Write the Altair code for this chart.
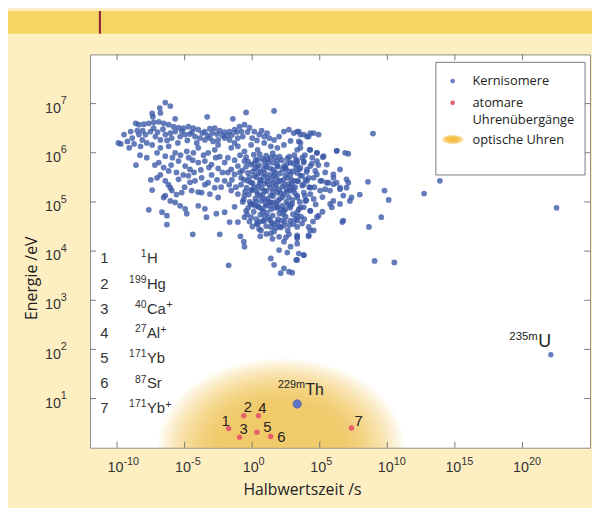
import numpy as np
import pandas as pd
import altair as alt

# ---------------- data (log10 values) ----------------
# nuclear isomers: (log10 half-life / s, log10 energy / eV)
ISO_POINTS = [
    (-6.43,7.02),(-6.06,6.95),(-6.84,6.91),(-7.40,6.80),(-6.79,6.81),(-7.35,6.73),(-5.70,6.69),(-3.33,6.73),(-1.43,6.69),(-0.45,6.82),(1.62,6.85),
    (-8.62,6.60),(-8.38,6.57),(-8.01,6.58),(-7.65,6.60),(-7.28,6.62),(-6.91,6.63),(-6.55,6.60),(-6.18,6.57),(-5.82,6.53),(-5.45,6.51),(-5.09,6.50),
    (-4.72,6.53),(-4.35,6.50),(-3.99,6.47),(-3.50,6.43),(-3.13,6.49),(-2.77,6.50),(-2.40,6.45),(-2.04,6.42),(-1.67,6.43),(-1.30,6.47),(-0.94,6.53),
    (-0.57,6.57),(-0.20,6.51),(0.16,6.43),(0.52,6.37),(0.89,6.33),(1.26,6.30),(1.62,6.26),(1.99,6.33),(2.35,6.43),(2.72,6.47),(3.08,6.40),(3.45,6.43),
    (3.82,6.37),(4.18,6.33),(4.55,6.40),(4.92,6.37),
    (-9.48,6.37),(-9.72,6.18),(-9.23,6.23),(-8.87,6.30),(-8.74,6.18),(-8.99,6.43),(-8.38,6.37),(-8.13,6.26),(-7.89,6.37),(-7.52,6.43),(-7.16,6.33),
    (-6.79,6.26),(-6.43,6.37),(-6.06,6.40),(-5.70,6.43),(-5.33,6.33),(-4.96,6.37),(-4.60,6.38),(-4.23,6.33),(-3.87,6.30),(-3.50,6.26),(-3.13,6.30),
    (-2.89,6.23),(-2.52,6.26),(-2.04,6.30),(-1.67,6.26),(-1.30,6.20),(-1.06,6.30),(-0.70,6.33),
    (-8.26,6.13),(-7.40,6.16),(-6.79,6.10),(-6.18,6.13),(-5.70,6.00),(-7.04,6.00),(-6.43,5.93),(-4.84,6.03),(-4.35,6.00),(-3.99,6.10),(-3.26,6.00),
    (-2.77,6.06),(-2.52,6.16),(-1.55,6.10),(-1.06,6.13),(-0.57,6.03),(-0.08,6.16),(0.40,6.06),(0.89,6.20),(1.38,6.13),(1.87,6.10),(2.35,6.16),
    (2.84,6.24),(3.33,6.06),(3.57,6.20),(4.30,6.06),(4.79,6.00),(5.28,5.93),(6.26,6.04),(6.87,6.00),
    (-6.91,5.80),(-6.55,5.70),(-6.18,5.63),(-5.45,5.83),(-4.96,5.73),(-4.60,5.66),(-3.99,5.80),(-3.50,5.83),(-3.01,5.76),(-2.52,5.68),(-2.04,5.80),
    (-1.55,5.66),(-1.06,5.73),(-0.57,5.83),(-0.08,5.76),(0.40,5.86),(0.89,5.83),(1.38,5.90),(1.87,5.83),(2.35,5.73),(2.84,5.80),(3.33,5.76),
    (3.82,5.83),(4.30,5.73),(4.79,5.83),(5.52,5.76),(6.01,5.56),(6.50,5.66),
    (-7.04,5.49),(-6.43,5.43),(-6.06,5.29),(-5.45,5.46),(-4.72,5.53),(-4.23,5.43),(-3.74,5.49),(-3.26,5.39),(-2.77,5.29),(-2.04,5.43),(-1.30,5.56),
    (-0.82,5.49),(-0.33,5.43),(0.16,5.53),(0.65,5.43),(1.13,5.49),(1.62,5.53),(2.11,5.43),(2.60,5.49),(3.08,5.43),(3.57,5.53),(4.06,5.43),
    (4.55,5.49),(5.04,5.43),(5.52,5.39),(6.01,5.36),(6.50,5.29),
    (-7.40,5.24),(-6.43,5.13),(-5.94,5.23),(-5.21,5.19),(-4.48,5.23),(-3.74,5.19),(-3.13,5.16),(-2.52,5.09),(-1.55,5.23),(-1.06,5.16),(-0.57,5.13),
    (-0.08,5.23),(0.40,5.16),(0.89,5.23),(1.38,5.13),(1.87,5.19),(2.35,5.16),(2.84,5.23),(3.33,5.13),(3.82,5.19),(4.30,5.16),
    (-7.65,4.84),(-6.55,5.09),(-6.06,5.02),(-5.70,4.99),(-5.33,4.92),(-4.96,4.86),(-4.84,4.76),(-6.67,4.79),(-6.31,4.72),(-6.31,4.54),(-3.99,4.92),
    (-3.50,4.86),(-3.38,4.69),(-2.65,4.76),(-2.04,4.79),(-1.67,4.59),(-1.06,4.59),(-0.57,4.69),(-0.45,4.82),(0.04,4.96),(0.52,4.89),(1.01,4.92),
    (1.38,4.99),(1.87,4.89),(2.35,4.82),(2.84,4.92),(3.33,4.79),(3.82,4.89),(4.30,4.82),(4.79,4.69),(5.77,4.96),(6.74,4.62),
    (-0.08,4.69),(0.40,4.56),(0.89,4.62),(1.38,4.49),(1.87,4.59),(2.35,4.52),(2.84,4.62),(3.33,4.49),(4.18,4.32),(3.33,4.32),(4.30,4.42),
    (-4.40,4.34),(-2.40,4.34),(-0.87,4.30),(-0.62,4.19),(-0.57,4.09),(1.38,4.36),(1.99,4.29),(2.35,4.19),(2.72,4.34),(2.84,4.09),(3.33,4.26),
    (3.82,3.92),(1.99,4.02),(2.60,3.97),(1.38,3.85),(1.62,3.72),(2.11,3.55),(2.35,3.65),(2.72,3.58),(2.96,3.56),(3.26,3.82),(-1.74,3.71),(0.65,4.42),
    (-0.90,5.95),(-0.45,5.91),(0.12,5.96),(0.55,5.97),(1.04,5.94),(1.52,5.99),(2.03,5.92),(2.61,5.89),(3.12,5.95),(3.71,5.90),
    (-0.72,5.64),(-0.31,5.59),(0.22,5.68),(0.63,5.61),(1.08,5.71),(1.57,5.65),(2.04,5.58),(2.49,5.67),(3.02,5.62),(3.48,5.66),(4.03,5.61),
    (-0.83,5.35),(-0.41,5.29),(0.03,5.38),(0.44,5.31),(0.91,5.37),(1.33,5.29),(1.79,5.35),(2.24,5.31),(2.69,5.36),(3.18,5.30),(3.71,5.33),(4.22,5.30),
    (-0.63,5.05),(-0.18,5.00),(0.24,5.07),(0.68,5.02),(1.12,5.06),(1.61,4.99),(2.04,5.06),(2.53,5.00),(2.97,5.04),(3.52,5.00),(4.01,5.03),
    (-0.38,4.75),(0.12,4.80),(0.61,4.74),(1.09,4.78),(1.52,4.72),(2.01,4.77),(2.48,4.70),(3.02,4.75),(3.61,4.70),
    (0.02,4.50),(0.51,4.45),(1.03,4.51),(1.62,4.40),(2.12,4.48),(2.63,4.42),(3.04,4.55),
    (0.31,5.50),(0.82,5.51),(1.33,5.55),(1.81,5.49),(2.32,5.45),(2.83,5.55),(0.33,5.21),(0.78,5.15),(1.52,5.21),(2.12,5.18),(2.61,5.21),
    (0.42,4.91),(1.01,4.95),(1.72,4.88),(2.22,4.92),(2.81,4.88),(0.81,4.61),(1.31,4.63),(1.92,4.65),(2.41,4.60),(-0.21,5.50),(-0.52,5.21),(-0.11,4.95),
    (0.50,5.75),(1.20,5.80),(1.90,5.72),(2.60,5.78),(0.70,5.28),(1.10,5.42),(1.60,5.38),(2.00,5.25),(2.40,5.35),(0.90,5.05),(1.40,4.85),
    (1.90,5.02),(2.30,4.75),(0.30,4.65),(2.70,5.10),(1.20,4.68),(0.60,5.45),(2.90,5.45),(1.70,5.60),(0.00,5.25),
    (-7.80,5.90),(-7.20,5.75),(-6.80,5.55),(-5.90,5.90),(-5.10,5.55),(-4.40,5.85),(-3.80,5.65),(-3.00,5.55),(-2.40,5.92),(-1.80,5.60),
    (-7.50,5.45),(-6.20,5.35),(-5.00,5.30),(-4.00,5.20),(-2.30,5.30),(-1.50,5.45),(-8.30,5.95),(-8.60,5.75),(-9.90,6.20),
    (3.33,6.43),(3.57,6.37),(4.06,6.33),(4.30,6.40),(3.45,6.23),(3.57,6.10),(4.25,6.06),(4.79,6.00),(5.23,5.91),(6.25,6.04),(7.11,5.98),
    (3.33,5.83),(3.81,5.80),(4.42,5.78),(3.57,5.69),(4.06,5.66),(4.67,5.63),(3.33,5.59),(3.69,5.53),(4.18,5.49),(4.79,5.56),(5.16,5.43),
    (5.64,5.39),(6.01,5.49),(6.25,5.39),(6.98,5.46),(7.11,5.39),(5.40,5.26),(5.76,5.23),(5.03,5.23),(6.50,5.26),(6.98,5.29),(6.74,5.13),
    (7.23,5.02),(6.50,4.96),(6.01,5.02),(7.35,5.09),(7.96,5.15),(8.57,5.41),(9.79,5.23),(10.10,5.04),(9.55,4.69),(8.64,4.49),(9.06,3.80),
    (10.52,3.77),(12.72,5.17),(13.89,5.43),(22.52,4.88),(8.94,6.39),(3.33,5.43),(3.81,5.36),(4.30,5.29),(3.33,5.09),(3.94,5.02),(4.55,5.06),
    (3.57,4.89),(4.30,4.82),(4.91,4.72),(3.33,4.62),(3.69,4.56),(4.18,4.49),(4.55,4.42),(3.33,4.29),(4.18,4.30),(3.33,4.15),(3.45,3.95),
    (3.81,3.92),(3.33,3.82),(6.67,4.59),(5.89,4.89),
    (-0.30,5.82),(0.25,5.85),(0.75,5.88),(1.15,5.86),(1.70,5.91),(2.20,5.85),(2.75,5.92),(3.25,5.86),
    (-0.45,5.72),(0.05,5.62),(0.40,5.70),(0.85,5.66),(1.35,5.68),(1.85,5.74),(2.25,5.66),(2.75,5.62),(3.25,5.70),
    (-0.60,5.45),(-0.10,5.40),(0.45,5.58),(0.95,5.58),(1.45,5.45),(1.95,5.42),(2.45,5.55),(2.95,5.36),(3.40,5.42),
    (-0.25,5.15),(0.15,5.30),(0.60,5.12),(1.05,5.22),(1.55,5.12),(2.25,5.10),(2.80,5.30),(3.15,5.18),
    (-0.30,4.88),(0.20,4.92),(0.72,4.86),(1.25,5.00),(1.80,4.95),(2.45,4.85),(2.95,4.96),(3.45,4.85),
    (0.35,4.55),(0.90,4.72),(1.45,4.58),(1.75,4.47),(2.20,4.62),(2.75,4.53),(3.20,4.65),(1.05,4.35),(1.50,4.25),(2.50,4.28),(0.60,4.30),
    (-9.10,6.10),(-8.50,6.45),(-8.10,6.45),(-7.80,6.20),(-7.30,6.50),(-7.00,6.42),(-6.60,6.48),(-6.30,6.25),(-5.95,6.30),(-5.50,6.20),
    (-5.20,6.44),(-4.80,6.25),(-4.45,6.42),(-4.10,6.20),(-3.70,6.40),(-3.30,6.35),(-2.95,6.40),(-2.60,6.38),(-2.20,6.35),(-1.85,6.35),
    (-1.50,6.36),(-1.15,6.42),(-0.80,6.43),(-0.35,6.42),(0.00,6.30),(0.35,6.25),(0.70,6.45),(1.10,6.40),
    (-6.00,5.75),(-5.60,5.60),(-5.30,5.95),(-4.70,5.90),(-4.30,5.60),(-3.60,5.95),(-3.20,5.70),(-2.70,5.90),(-2.20,5.60),(-1.80,5.90),
    (-1.30,5.85),(-0.90,5.60),(-1.70,5.35),(-1.20,5.30),(-0.70,5.00),(-1.30,4.90),(-2.60,5.45),(-3.50,5.35),(-4.60,5.40),(-5.60,5.15),
    (3.90,5.95),(4.45,5.90),(4.90,5.75),(5.40,5.60),(3.95,5.45),(4.60,5.30),(5.20,5.10),(3.90,5.12),(4.70,4.95),(3.85,4.65),(4.50,4.60),(5.20,4.80),
    (0.15,5.78),(0.95,5.74),(1.55,5.80),(2.45,5.70),(3.05,5.78),(0.55,5.38),(1.25,5.35),(1.70,5.28),(2.55,5.25),(3.05,5.25),
    (0.30,5.00),(0.80,4.82),(1.35,4.92),(2.10,4.85),(2.65,4.95),(0.55,4.60),(1.60,4.55),(2.00,4.50),(3.35,4.70),(-0.20,4.60),
]
ISO_LOG_T = [p[0] for p in ISO_POINTS]
ISO_LOG_E = [p[1] for p in ISO_POINTS]

# atomic clock transitions 1..7
CLOCK_IDS = ["1", "2", "3", "4", "5", "6", "7"]
CLOCK_LOG_T = [-1.74, -0.62, -0.94, 0.47, 0.35, 1.37, 7.35]
CLOCK_LOG_E = [0.39, 0.65, 0.215, 0.65, 0.315, 0.227, 0.40]

# special isomers
TH_LOG_T, TH_LOG_E = 3.33, 0.89
U_LOG_T, U_LOG_E = 22.1, 1.89

# optical clock region (centre of glow)
GLOW_LOG_T, GLOW_LOG_E = 2.12, 0.0

# list on the left
LIST_NUM = ["1", "2", "3", "4", "5", "6", "7"]
LIST_MASS = ["1", "199", "40", "27", "171", "87", "171"]
LIST_ELEM = ["H", "Hg", "Ca", "Al", "Yb", "Sr", "Yb"]
LIST_CHARGE = ["", "", "+", "+", "", "", "+"]
LIST_LOG_E = [3.753, 3.230, 2.727, 2.225, 1.723, 1.206, 0.704]
LIST_NUM_LOG_T = -10.94
LIST_ELEM_LOG_T = -7.79

X_TICKS = [1e-10, 1e-5, 1e0, 1e5, 1e10, 1e15, 1e20]
X_TICK_EXP = ["-10", "-5", "0", "5", "10", "15", "20"]
Y_TICKS = [1e1, 1e2, 1e3, 1e4, 1e5, 1e6, 1e7]
Y_TICK_EXP = ["1", "2", "3", "4", "5", "6", "7"]

LEGEND_LABELS = ["Kernisomere", "atomare", "Uhrenübergänge", "optische Uhren"]

# ---------------- styles ----------------
W, H = 506, 398
BLUE = "#3a57a6"
BLUE_LIGHT = "#6b7dc6"
RED = "#e4606b"
GOLD = "#f4b62c"
NUM_FONT = "Liberation Sans"
TXT_FONT = "Open Sans"
TICK_COLOR = "#7a7a7a"
LABEL_COLOR = "#333333"
CHARGE_DX = [0, 0, 19.5, 13.6, 0, 0, 18.6]   # width of the element symbol in px


def ellipse_path(ry, n=64):
    pts = []
    for k in range(n):
        a = 2 * np.pi * k / n
        pts.append(f"{np.cos(a):.4f},{ry * np.sin(a):.4f}")
    return "M" + " L".join(pts) + " Z"


GLOW_SHAPE = ellipse_path(0.726)
LEG_GLOW_SHAPE = ellipse_path(0.42)
GLOW_STEPS = [1.0, 0.97, 0.94, 0.91, 0.88, 0.85, 0.82, 0.79, 0.76, 0.73, 0.70, 0.67, 0.64, 0.60, 0.56, 0.52]
LEG_GLOW_STEPS = [1.0, 0.88, 0.76, 0.64, 0.52, 0.40]

xs = alt.Scale(type="log", domain=[1e-12, 1e25], nice=False)
ys = alt.Scale(type="log", domain=[1, 1e8], nice=False)

x_axis = alt.Axis(
    values=X_TICKS, labels=False, ticks=False, domain=False, grid=False,
    title="Halbwertszeit /s", titleFont=TXT_FONT, titleFontSize=16, titleFontWeight="normal",
    titleColor="#222222", titleX=214.5, titleY=47.5, titleAlign="center", titleBaseline="alphabetic",
)
y_axis = alt.Axis(
    values=Y_TICKS, labels=False, ticks=False, domain=False, grid=False,
    title="Energie /eV", titleFont=TXT_FONT, titleFontSize=16, titleFontWeight="normal",
    titleColor="#222222", titleAngle=270, titleX=-59.5, titleY=226, titleAlign="center",
    titleBaseline="middle",
)

X = alt.X("t:Q", scale=xs, axis=x_axis)
Y = alt.Y("e:Q", scale=ys, axis=y_axis)

one = pd.DataFrame({"a": [0]})
layers = []

# header band
layers.append(alt.Chart(one).mark_rect(color="#f5d563").encode(
    x=alt.value(-83), x2=alt.value(510), y=alt.value(-44), y2=alt.value(-21)))
layers.append(alt.Chart(one).mark_rule(color="#8e1b3c", strokeWidth=2).encode(
    x=alt.value(10), y=alt.value(-44), y2=alt.value(-21)))

# glow (optical clocks)
glow_df = pd.DataFrame({
    "t": [10 ** GLOW_LOG_T] * len(GLOW_STEPS),
    "e": [10 ** GLOW_LOG_E] * len(GLOW_STEPS),
    "s": [(2 * 124 * k) ** 2 for k in GLOW_STEPS],
})
layers.append(alt.Chart(glow_df).mark_point(
    shape=GLOW_SHAPE, filled=True, fill=GOLD, strokeWidth=0, opacity=0.072, clip=True
).encode(x=X, y=Y, size=alt.Size("s:Q", scale=None)))

# frame ticks (inward) and tick labels
xt = pd.DataFrame({"t": X_TICKS, "exp": X_TICK_EXP, "base": ["10"] * len(X_TICKS)})
yt = pd.DataFrame({"e": Y_TICKS, "exp": Y_TICK_EXP, "base": ["10"] * len(Y_TICKS)})
layers.append(alt.Chart(xt).mark_rule(color=TICK_COLOR, strokeWidth=1).encode(
    x=X, y=alt.value(H - 6), y2=alt.value(H)))
layers.append(alt.Chart(xt).mark_rule(color=TICK_COLOR, strokeWidth=1).encode(
    x=X, y=alt.value(0), y2=alt.value(6)))
layers.append(alt.Chart(yt).mark_rule(color=TICK_COLOR, strokeWidth=1).encode(
    y=Y, x=alt.value(0), x2=alt.value(6)))
layers.append(alt.Chart(yt).mark_rule(color=TICK_COLOR, strokeWidth=1).encode(
    y=Y, x=alt.value(W - 6), x2=alt.value(W)))

layers.append(alt.Chart(xt).mark_text(font=NUM_FONT, fontSize=14.5, color=LABEL_COLOR, align="right",
                                      baseline="alphabetic", dx=6.5).encode(
    x=X, y=alt.value(H + 25), text="base:N"))
layers.append(alt.Chart(xt).mark_text(font=NUM_FONT, fontSize=11, color=LABEL_COLOR, align="left",
                                      baseline="alphabetic", dx=6.5).encode(
    x=X, y=alt.value(H + 17.5), text="exp:N"))
layers.append(alt.Chart(yt).mark_text(font=NUM_FONT, fontSize=14.5, color=LABEL_COLOR, align="right",
                                      baseline="alphabetic", dy=9.3).encode(
    y=Y, x=alt.value(-29.5), text="base:N"))
layers.append(alt.Chart(yt).mark_text(font=NUM_FONT, fontSize=11, color=LABEL_COLOR, align="left",
                                      baseline="alphabetic", dy=0.6).encode(
    y=Y, x=alt.value(-29.5), text="exp:N"))

# isomers
iso_df = pd.DataFrame({"t": [10 ** v for v in ISO_LOG_T], "e": [10 ** v for v in ISO_LOG_E]})
layers.append(alt.Chart(iso_df).mark_circle(color=BLUE, opacity=0.78, size=34).encode(x=X, y=Y))

# clock transitions
clk_df = pd.DataFrame({"t": [10 ** v for v in CLOCK_LOG_T], "e": [10 ** v for v in CLOCK_LOG_E],
                       "id": CLOCK_IDS})
layers.append(alt.Chart(clk_df).mark_circle(color=RED, opacity=1, size=30).encode(x=X, y=Y))
CLOCK_LABEL_OFFSETS = [(-3, -7.5), (4, -8.4), (4.3, -8.6), (4, -7.7), (10.7, -5), (10.7, 0.3), (7.3, -7.3)]
for i, (dx, dy) in enumerate(CLOCK_LABEL_OFFSETS):
    layers.append(alt.Chart(clk_df.iloc[[i]]).mark_text(
        font=NUM_FONT, fontSize=15, color="#222222", align="center", baseline="middle", dx=dx, dy=dy
    ).encode(x=X, y=Y, text="id:N"))

# Th and U isomers
th_df = pd.DataFrame({"t": [10 ** TH_LOG_T], "e": [10 ** TH_LOG_E], "sup": ["229m"], "main": ["Th"]})
u_df = pd.DataFrame({"t": [10 ** U_LOG_T], "e": [10 ** U_LOG_E], "sup": ["235m"], "main": ["U"]})
layers.append(alt.Chart(th_df).mark_circle(color="#5f74c4", opacity=1, size=70, stroke="#4a5fb0",
                                           strokeWidth=0.8).encode(x=X, y=Y))
layers.append(alt.Chart(u_df).mark_circle(color=BLUE_LIGHT, opacity=1, size=30).encode(x=X, y=Y))
layers.append(alt.Chart(th_df).mark_text(font=NUM_FONT, fontSize=16, color="#222222", align="left",
                                         baseline="alphabetic", dx=8.3, dy=-9).encode(x=X, y=Y, text="main:N"))
layers.append(alt.Chart(th_df).mark_text(font=NUM_FONT, fontSize=11, color="#222222", align="right",
                                         baseline="alphabetic", dx=8, dy=-15.7).encode(x=X, y=Y, text="sup:N"))
layers.append(alt.Chart(u_df).mark_text(font=NUM_FONT, fontSize=18, color="#222222", align="left",
                                        baseline="alphabetic", dx=-12.7, dy=-8).encode(x=X, y=Y, text="main:N"))
layers.append(alt.Chart(u_df).mark_text(font=NUM_FONT, fontSize=11.5, color="#222222", align="right",
                                        baseline="alphabetic", dx=-13.2, dy=-15.3).encode(x=X, y=Y, text="sup:N"))

# list on the left
list_df = pd.DataFrame({
    "e": [10 ** v for v in LIST_LOG_E],
    "tn": [10 ** LIST_NUM_LOG_T] * 7,
    "t": [10 ** LIST_ELEM_LOG_T] * 7,
    "num": LIST_NUM, "mass": LIST_MASS, "elem": LIST_ELEM, "charge": LIST_CHARGE,
})
layers.append(alt.Chart(list_df).mark_text(font=NUM_FONT, fontSize=15, color=LABEL_COLOR, align="center",
                                           baseline="alphabetic").encode(
    x=alt.X("tn:Q", scale=xs, axis=x_axis), y=Y, text="num:N"))
layers.append(alt.Chart(list_df).mark_text(font=NUM_FONT, fontSize=15, color=LABEL_COLOR, align="left",
                                           baseline="alphabetic").encode(x=X, y=Y, text="elem:N"))
layers.append(alt.Chart(list_df).mark_text(font=NUM_FONT, fontSize=10.5, color=LABEL_COLOR, align="right",
                                           baseline="alphabetic", dx=-0.5, dy=-6).encode(x=X, y=Y, text="mass:N"))
for i, cdx in enumerate(CHARGE_DX):
    if LIST_CHARGE[i]:
        layers.append(alt.Chart(list_df.iloc[[i]]).mark_text(
            font=NUM_FONT, fontSize=11, color=LABEL_COLOR, align="left", baseline="alphabetic",
            dx=cdx, dy=-5.5).encode(x=X, y=Y, text="charge:N"))

# legend (drawn by hand)
layers.append(alt.Chart(one).mark_rect(fill="white", stroke="#7a7a7a", strokeWidth=1).encode(
    x=alt.value(350), x2=alt.value(501), y=alt.value(8), y2=alt.value(122)))
layers.append(alt.Chart(one).mark_circle(color=BLUE_LIGHT, opacity=1, size=22).encode(
    x=alt.value(367), y=alt.value(27)))
layers.append(alt.Chart(one).mark_circle(color=RED, opacity=1, size=22).encode(
    x=alt.value(367), y=alt.value(49)))
leg_glow = pd.DataFrame({"s": [(2 * 11 * k) ** 2 for k in LEG_GLOW_STEPS]})
layers.append(alt.Chart(leg_glow).mark_point(
    shape=LEG_GLOW_SHAPE, filled=True, fill=GOLD, strokeWidth=0, opacity=0.3
).encode(x=alt.value(367), y=alt.value(86), size=alt.Size("s:Q", scale=None)))
for lab, yy in zip(LEGEND_LABELS, [27, 48.8, 66, 86.3]):
    layers.append(alt.Chart(one).mark_text(font=TXT_FONT, fontSize=13, color="#222222", align="left",
                                           baseline="middle", text=lab).encode(
        x=alt.value(387), y=alt.value(yy)))

chart = alt.layer(*layers).properties(
    width=W, height=H,
    autosize=alt.AutoSizeParams(type="none"),
    padding={"left": 83, "top": 44, "right": 2, "bottom": 58},
    background="#feefc3",
).configure_view(fill="white", stroke="#8c8c8c", strokeWidth=1)

chart.save("out.html", embed_options={"renderer": "svg", "actions": False})
